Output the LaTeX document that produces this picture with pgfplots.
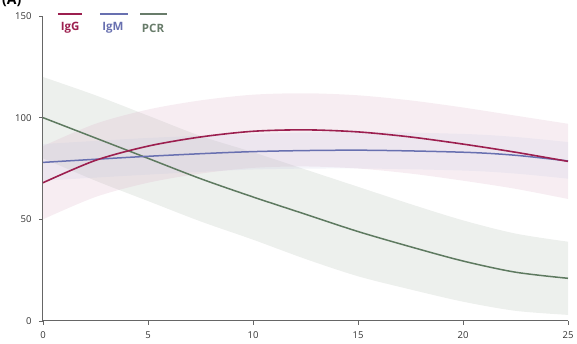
\documentclass[border=0pt]{standalone}
\usepackage{pgfplots}
\pgfplotsset{compat=1.18}
\usepgfplotslibrary{fillbetween}
\usepackage{fontspec}
\setmainfont{Open Sans}
\definecolor{igg}{HTML}{9C1F4F}
\definecolor{igm}{HTML}{6870B0}
\definecolor{pcr}{HTML}{5E7A60}
\definecolor{iggband}{HTML}{D9AFC4}
\definecolor{igmband}{HTML}{B8BBE0}
\definecolor{pcrband}{HTML}{C4CCC4}
\definecolor{axc}{HTML}{666666}
\begin{document}
\begin{tikzpicture}
\begin{axis}[scale only axis, width=525pt, height=305pt,
  xmin=0, xmax=25, ymin=0, ymax=150,
  axis lines=left, axis line style={-, draw=axc, line width=1pt},
  xtick={0,5,10,15,20,25}, ytick={0,50,100,150},
  tick style={draw=axc, line width=0.8pt}, tick align=outside, major tick length=4pt,
  tick label style={font=\fontsize{9.5}{10}\selectfont, text=black!80},
  xticklabel style={yshift=-3pt}, yticklabel style={xshift=-4pt},
  /pgf/number format/assume math mode=true, clip=false]
% PCR band
\addplot[name path=pu, draw=none, smooth] coordinates {(0,120) (2.5,111) (5,101) (7.5,91) (10,83) (12.5,74.5) (15,66) (17.5,57.5) (20,49.5) (22.5,43) (25,39)};
\addplot[name path=pl, draw=none, smooth] coordinates {(0,80) (2.5,69) (5,59) (7.5,49) (10,40) (12.5,30.5) (15,22) (17.5,15.5) (20,9.5) (22.5,5) (25,3)};
\addplot[pcrband, fill opacity=0.3, draw=none] fill between[of=pu and pl];
% IgG band
\addplot[name path=gu, draw=none, smooth] coordinates {(0,86) (2.5,97) (5,104) (7.5,108.5) (10,111.3) (12.5,112) (15,111) (17.5,108.5) (20,105) (22.5,101) (25,97)};
\addplot[name path=gl, draw=none, smooth] coordinates {(0,50) (2.5,61) (5,68) (7.5,72.5) (10,75.3) (12.5,76) (15,75) (17.5,72.5) (20,69) (22.5,65) (25,60)};
\addplot[iggband, fill opacity=0.22, draw=none] fill between[of=gu and gl];
% IgM band
\addplot[name path=mu, draw=none, smooth] coordinates {(0,87) (5,90) (10,92) (15,93) (20,92) (22.5,90.5) (25,88)};
\addplot[name path=ml, draw=none, smooth] coordinates {(0,69) (5,72) (10,74.5) (15,75) (20,74) (22.5,72.5) (25,70)};
\addplot[igmband, fill opacity=0.15, draw=none] fill between[of=mu and ml];
% lines
\addplot[pcr, line width=1.5pt, smooth] coordinates {(0,100) (2.5,90) (5,80) (7.5,70) (10,61) (12.5,52.5) (15,44) (17.5,36.5) (20,29.5) (22.5,24) (25,21)};
\addplot[igm, line width=1.5pt, smooth] coordinates {(0,78) (5,81) (10,83.3) (15,84) (20,83) (22.5,81.5) (25,78.7)};
\addplot[igg, line width=1.6pt, smooth] coordinates {(0,68) (2.5,79) (5,86) (7.5,90.5) (10,93.3) (12.5,94) (15,93) (17.5,90.5) (20,87) (22.5,83) (25,78.5)};
% legend
\draw[igg, line width=1.8pt] (axis cs:0.71,151) -- (axis cs:1.86,151);
\node[text=igg, font=\fontsize{11.5}{12}\selectfont\bfseries] at (axis cs:1.29,144) {IgG};
\draw[igm, line width=1.8pt] (axis cs:2.71,151) -- (axis cs:4.05,151);
\node[text=igm, font=\fontsize{11.5}{12}\selectfont\bfseries] at (axis cs:3.33,144) {IgM};
\draw[pcr!70!gray, line width=1.8pt] (axis cs:4.62,151) -- (axis cs:5.9,151);
\node[text=pcr!70!gray, font=\fontsize{11.5}{12}\selectfont\bfseries] at (axis cs:5.24,144) {PCR};
\coordinate (sw) at (axis cs:0,0);
\coordinate (ne) at (axis cs:25,150);
\coordinate (tl) at (axis cs:0,150);
\end{axis}
\node[anchor=base west, font=\bfseries\fontsize{14}{14}\selectfont, inner sep=0pt] at ([shift={(-41pt,11pt)}]tl) {(A)};
\pgfresetboundingbox
\path[use as bounding box] ([shift={(-43pt,-23pt)}]sw) rectangle ([shift={(9pt,16pt)}]ne);
\end{tikzpicture}
\end{document}
